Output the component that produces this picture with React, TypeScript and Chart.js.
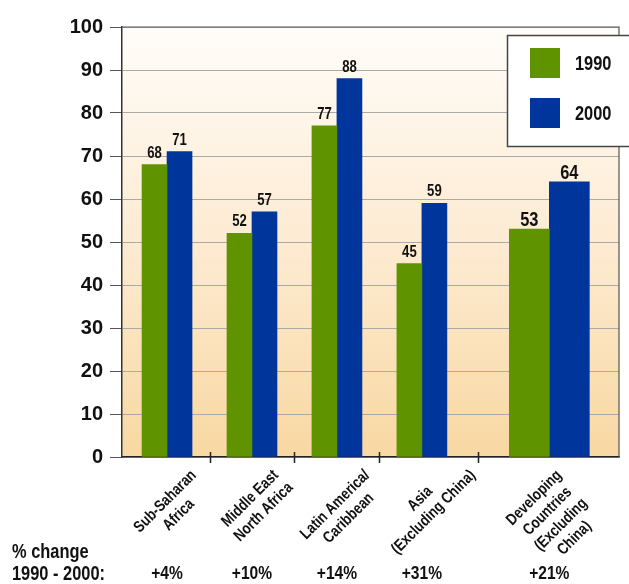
import React, { useEffect, useRef } from 'react';
import { Chart, registerables } from 'chart.js';

Chart.register(...registerables);

// ---------------- data ----------------
const categories: string[][] = [
  ['Sub-Saharan', 'Africa'],
  ['Middle East', 'North Africa'],
  ['Latin America/', 'Caribbean'],
  ['Asia', '(Excluding China)'],
  ['Developing', 'Countries', '(Excluding', 'China)'],
];
const seriesLabels = ['1990', '2000'];
const values1990 = [68, 52, 77, 45, 53];
const values2000 = [71, 57, 88, 59, 64];
const pctChange = ['+4%', '+10%', '+14%', '+31%', '+21%'];
const changeTitle = ['% change', '1990 - 2000:'];
const yMin = 0;
const yMax = 100;
const yStep = 10;

// ---------------- layout / style ----------------
const slots = [0, 1, 2, 3, 4.5]; // horizontal slot of each group (aggregate group set apart)
const SUMMARY = 4; // index of the aggregate group (wider bars)
const GREEN = '#5f9400';
const BLUE = '#00359b';
const BOLD = '"Liberation Sans", Arial, Helvetica, sans-serif';
const NARROW_X = 0.82; // horizontal squeeze to mimic a condensed face

const makeData = (vals: number[], big: boolean) =>
  vals.map((v, i) => ({ x: slots[i], y: (i === SUMMARY) === big ? v : null }));

function narrowText(ctx: CanvasRenderingContext2D, text: string, x: number, y: number, rot = 0) {
  ctx.save();
  ctx.translate(x, y);
  if (rot) ctx.rotate(rot);
  ctx.scale(NARROW_X, 1);
  ctx.fillText(text, 0, 0);
  ctx.restore();
}

const decor = {
  id: 'decor',
  beforeDraw(chart: any) {
    const { ctx, chartArea: a } = chart;
    const g = ctx.createLinearGradient(0, a.top, 0, a.bottom);
    g.addColorStop(0, '#fffdf9');
    g.addColorStop(0.5, '#fdebd2');
    g.addColorStop(1, '#f8d8a2');
    ctx.save();
    ctx.fillStyle = g;
    ctx.fillRect(a.left, a.top, a.right - a.left, a.bottom - a.top);
    ctx.restore();
  },
  afterDraw(chart: any) {
    const { ctx, chartArea: a } = chart;
    const xs = chart.scales.x;
    ctx.save();

    // plot frame top & right
    ctx.strokeStyle = '#555';
    ctx.lineWidth = 1.2;
    ctx.beginPath();
    ctx.moveTo(a.left, a.top);
    ctx.lineTo(a.right, a.top);
    ctx.lineTo(a.right, a.bottom);
    ctx.stroke();

    // bar element lookup
    const metas = [0, 1, 2, 3].map((d) => chart.getDatasetMeta(d));
    const groupEdges = categories.map((_, i) => {
      const big = i === SUMMARY;
      const g = metas[big ? 2 : 0].data[i];
      const b = metas[big ? 3 : 1].data[i];
      return { left: g.x - g.width / 2, right: b.x + b.width / 2 };
    });

    // separator ticks between groups
    ctx.strokeStyle = '#222';
    ctx.lineWidth = 1.5;
    for (let i = 0; i < groupEdges.length - 1; i++) {
      const x = Math.round((groupEdges[i].right + groupEdges[i + 1].left) / 2) + 0.5;
      ctx.beginPath();
      ctx.moveTo(x, a.bottom - 5);
      ctx.lineTo(x, a.bottom + 6);
      ctx.stroke();
    }

    // value labels
    ctx.fillStyle = '#111';
    ctx.textAlign = 'center';
    ctx.textBaseline = 'alphabetic';
    chart.data.datasets.forEach((ds: any, d: number) => {
      const big = d >= 2;
      ctx.font = `bold ${big ? 20 : 16}px ${BOLD}`;
      metas[d].data.forEach((el: any, i: number) => {
        const v = ds.data[i].y;
        if (v == null) return;
        narrowText(ctx, String(v), el.x, el.y - (big ? 3 : 7));
      });
    });

    // rotated category labels
    const lh = 19;
    const r = Math.SQRT1_2;
    ctx.font = `bold 16px ${BOLD}`;
    ctx.textAlign = 'center';
    ctx.textBaseline = 'middle';
    categories.forEach((lines, gi) => {
      const cx = xs.getPixelForValue(slots[gi]) + 5;
      const n = lines.length;
      let need = -Infinity;
      lines.forEach((ln, i) => {
        const k = i - (n - 1) / 2;
        const w = ctx.measureText(ln).width * NARROW_X;
        need = Math.max(need, r * (w / 2 + 5.5) - k * lh * r);
      });
      const cy = a.bottom + 12 + need;
      lines.forEach((ln, i) => {
        const k = i - (n - 1) / 2;
        narrowText(ctx, ln, cx + k * lh * r, cy + k * lh * r, -Math.PI / 4);
      });
    });

    // % change row
    ctx.textAlign = 'left';
    ctx.textBaseline = 'middle';
    ctx.font = `bold 20px ${BOLD}`;
    narrowText(ctx, changeTitle[0], 12, 552);
    narrowText(ctx, changeTitle[1], 12, 574);
    ctx.textAlign = 'center';
    ctx.font = `bold 19px ${BOLD}`;
    pctChange.forEach((p, i) => {
      narrowText(ctx, p, xs.getPixelForValue(slots[i]), 574);
    });

    // legend box
    const lx = 507, ly = 35, lw = 140, lhh = 111;
    ctx.fillStyle = '#ffffff';
    ctx.fillRect(lx, ly, lw, lhh);
    ctx.strokeStyle = '#444';
    ctx.lineWidth = 1.5;
    ctx.strokeRect(lx + 0.5, ly + 0.5, lw, lhh);
    const colors = [GREEN, BLUE];
    ctx.font = `bold 20px ${BOLD}`;
    ctx.textAlign = 'left';
    ctx.textBaseline = 'middle';
    seriesLabels.forEach((s, i) => {
      const y = 48 + i * 50;
      ctx.fillStyle = colors[i];
      ctx.fillRect(530, y, 30, 30);
      ctx.fillStyle = '#111';
      narrowText(ctx, s, 575, y + 16);
    });

    ctx.restore();
  },
};

export default function App() {
  const ref = useRef<HTMLCanvasElement>(null);
  useEffect(() => {
    const base = { grouped: true, skipNull: true, borderWidth: 0 };
    const chart = new Chart(ref.current as HTMLCanvasElement, {
      type: 'bar',
      data: {
        datasets: [
          { ...base, label: seriesLabels[0], stack: 's0', data: makeData(values1990, false), backgroundColor: GREEN, barThickness: 25 },
          { ...base, label: seriesLabels[1], stack: 's1', data: makeData(values2000, false), backgroundColor: BLUE, barThickness: 25 },
          { ...base, label: seriesLabels[0], stack: 's2', data: makeData(values1990, true), backgroundColor: GREEN, barThickness: 40 },
          { ...base, label: seriesLabels[1], stack: 's3', data: makeData(values2000, true), backgroundColor: BLUE, barThickness: 40 },
        ] as any,
      },
      options: {
        responsive: false,
        animation: false,
        events: [],
        layout: { padding: { top: 27, right: 10, left: 0, bottom: 0 } },
        plugins: { legend: { display: false }, tooltip: { enabled: false } },
        scales: {
          x: {
            type: 'linear',
            min: -0.53,
            max: 5.32,
            offset: false,
            stacked: false,
            grid: { display: false },
            ticks: { display: false },
            border: { display: true, color: '#222', width: 1.5 },
            afterFit: (s: any) => { s.height = 127; },
          },
          y: {
            min: yMin,
            max: yMax,
            stacked: false,
            ticks: {
              stepSize: yStep,
              color: '#111',
              padding: 7,
              font: { family: BOLD, size: 20, weight: 'bold' },
            },
            grid: { color: '#aaaaaa', tickColor: '#555', tickLength: 12, lineWidth: 1 },
            border: { color: '#333', width: 1.5 },
            afterFit: (s: any) => { s.width = 122; },
          },
        },
      } as any,
      plugins: [decor],
    });
    return () => chart.destroy();
  }, []);
  return (
    <div style={{ position: 'absolute', left: 0, top: 0, width: 629, height: 584 }}>
      <canvas ref={ref} width={629} height={584} style={{ display: 'block' }} />
    </div>
  );
}
